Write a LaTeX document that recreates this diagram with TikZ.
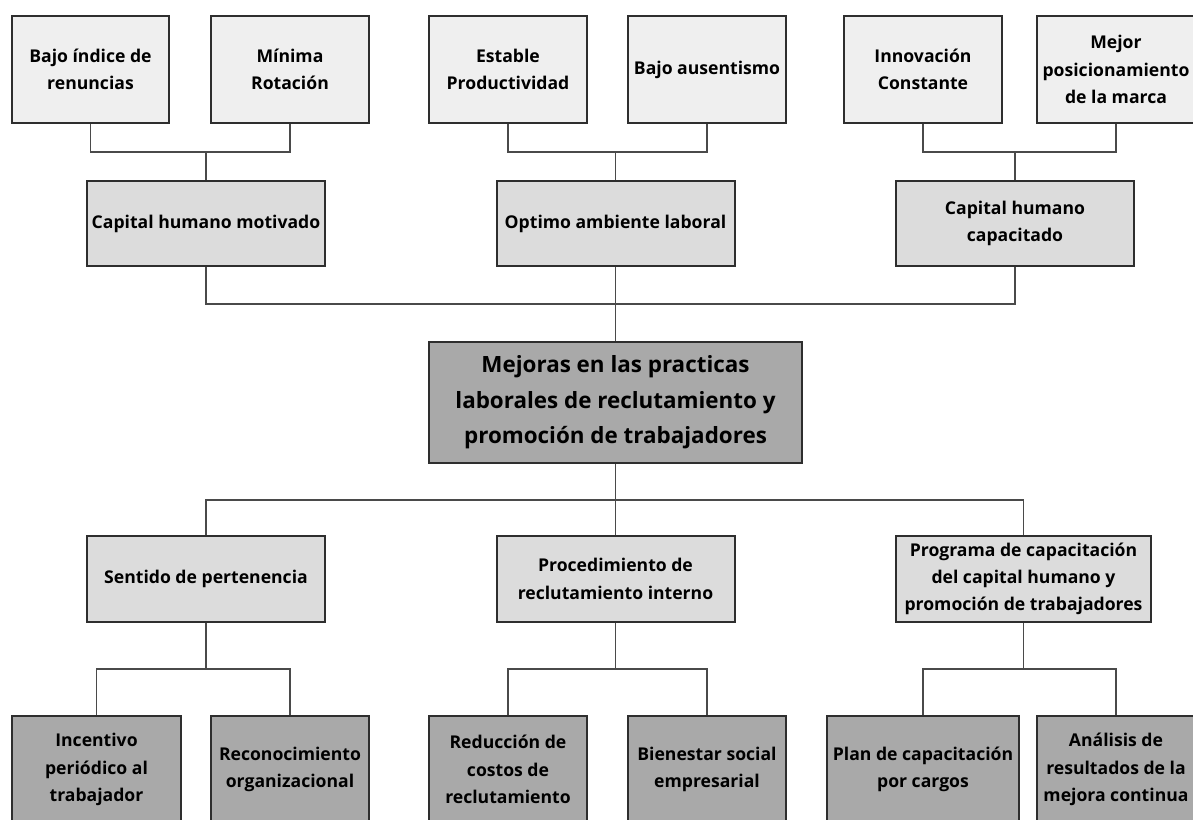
\documentclass[tikz,border=0pt]{standalone}
\usepackage{fontspec}
\setmainfont{Open Sans}
\definecolor{cajaclara}{HTML}{EFEFEF}
\definecolor{cajamedia}{HTML}{DCDCDC}
\definecolor{cajaoscura}{HTML}{A9A9A9}
\definecolor{borde}{HTML}{2E2E2E}
\definecolor{linea}{HTML}{4A4A4A}

\begin{document}
\begin{tikzpicture}[x=0.75pt,y=-0.75pt,
    caja/.style={draw=borde,line width=1.5pt,align=center,inner sep=0pt,
        font=\bfseries\fontsize{13.2}{20.5}\selectfont},
    nivela/.style={caja,fill=cajaclara,minimum width=118pt,minimum height=80pt},
    nivelb/.style={caja,fill=cajamedia,minimum width=178.5pt,minimum height=64pt},
    nivelc/.style={caja,fill=cajaoscura,minimum width=118pt,minimum height=80pt},
    central/.style={caja,fill=cajaoscura,minimum width=280pt,minimum height=91pt,
        font=\bfseries\fontsize{16.8}{26.5}\selectfont},
    conector/.style={draw=linea,line width=1.1pt}]
        % lienzo
        \fill[white] (0,0) rectangle (1193,820);
        \useasboundingbox (0,0) rectangle (1193,820);

        % resultados
        \node[nivela] (bajo) at (90.5,69.5) {Bajo índice de\\renuncias};
        \node[nivela] (minima) at (290,69.5) {Mínima\\Rotación};
        \node[nivela] (estable) at (508,69.5) {Estable\\Productividad};
        \node[nivela] (ausent) at (707,69.5) {Bajo ausentismo};
        \node[nivela] (innov) at (923,69.5) {Innovación\\Constante};
        \node[nivela] (mejor) at (1116,69.5) {Mejor\\posicionamiento\\de la marca};

        % efectos
        \node[nivelb] (motivado) at (206,223.5) {Capital humano motivado};
        \node[nivelb] (optimo) at (615.5,223.5) {Optimo ambiente laboral};
        \node[nivelb] (capacitado) at (1015,223.5) {Capital humano\\capacitado};

        % propuesta
        \node[central] (mejoras) at (615.5,402.5)
            {Mejoras en las practicas\\laborales de reclutamiento y\\promoción de trabajadores};

        % componentes
        \node[nivelb] (sentido) at (206,579) {Sentido de pertenencia};
        \node[nivelb] (proced) at (615.5,579) {Procedimiento de\\reclutamiento interno};
        \node[nivelb,minimum width=191pt] (programa) at (1023.5,579)
            {Programa de capacitación\\del capital humano y\\promoción de trabajadores};

        % acciones
        \node[nivelc,minimum width=127pt] (incentivo) at (96.5,769.5) {Incentivo\\periódico al\\trabajador};
        \node[nivelc] (reconoc) at (290,769.5) {Reconocimiento\\organizacional};
        \node[nivelc] (reduccion) at (508,769.5) {Reducción de\\costos de\\reclutamiento};
        \node[nivelc] (bienestar) at (707,769.5) {Bienestar social\\empresarial};
        \node[nivelc,minimum width=144pt] (plan) at (923,769.5) {Plan de capacitación\\por cargos};
        \node[nivelc] (analisis) at (1116,769.5) {Análisis de\\resultados de la\\mejora continua};

        % uniones
        \coordinate (u1) at (206,152);
        \coordinate (u2) at (615.5,152);
        \coordinate (u3) at (1015,152);
        \coordinate (u4) at (615.5,304);
        \coordinate (u5) at (615.5,500);
        \coordinate (u6) at (206,669);
        \coordinate (u7) at (615.5,669);
        \coordinate (u8) at (1023.5,669);

        \draw[conector] (bajo.south) |- (u1) -| (minima.south);
        \draw[conector] (u1) -- (motivado.north);
        \draw[conector] (estable.south) |- (u2) -| (ausent.south);
        \draw[conector] (u2) -- (optimo.north);
        \draw[conector] (innov.south) |- (u3) -| (mejor.south);
        \draw[conector] (u3) -- (capacitado.north);

        \draw[conector] (motivado.south) |- (u4) -| (capacitado.south);
        \draw[conector] (optimo.south) -- (u4) -- (mejoras.north);

        \draw[conector] (sentido.north) |- (u5) -| (programa.north);
        \draw[conector] (mejoras.south) -- (u5) -- (proced.north);

        \draw[conector] (incentivo.north) |- (u6) -| (reconoc.north);
        \draw[conector] (sentido.south) -- (u6);
        \draw[conector] (reduccion.north) |- (u7) -| (bienestar.north);
        \draw[conector] (proced.south) -- (u7);
        \draw[conector] (plan.north) |- (u8) -| (analisis.north);
        \draw[conector] (programa.south) -- (u8);

    \end{tikzpicture}
\end{document}
